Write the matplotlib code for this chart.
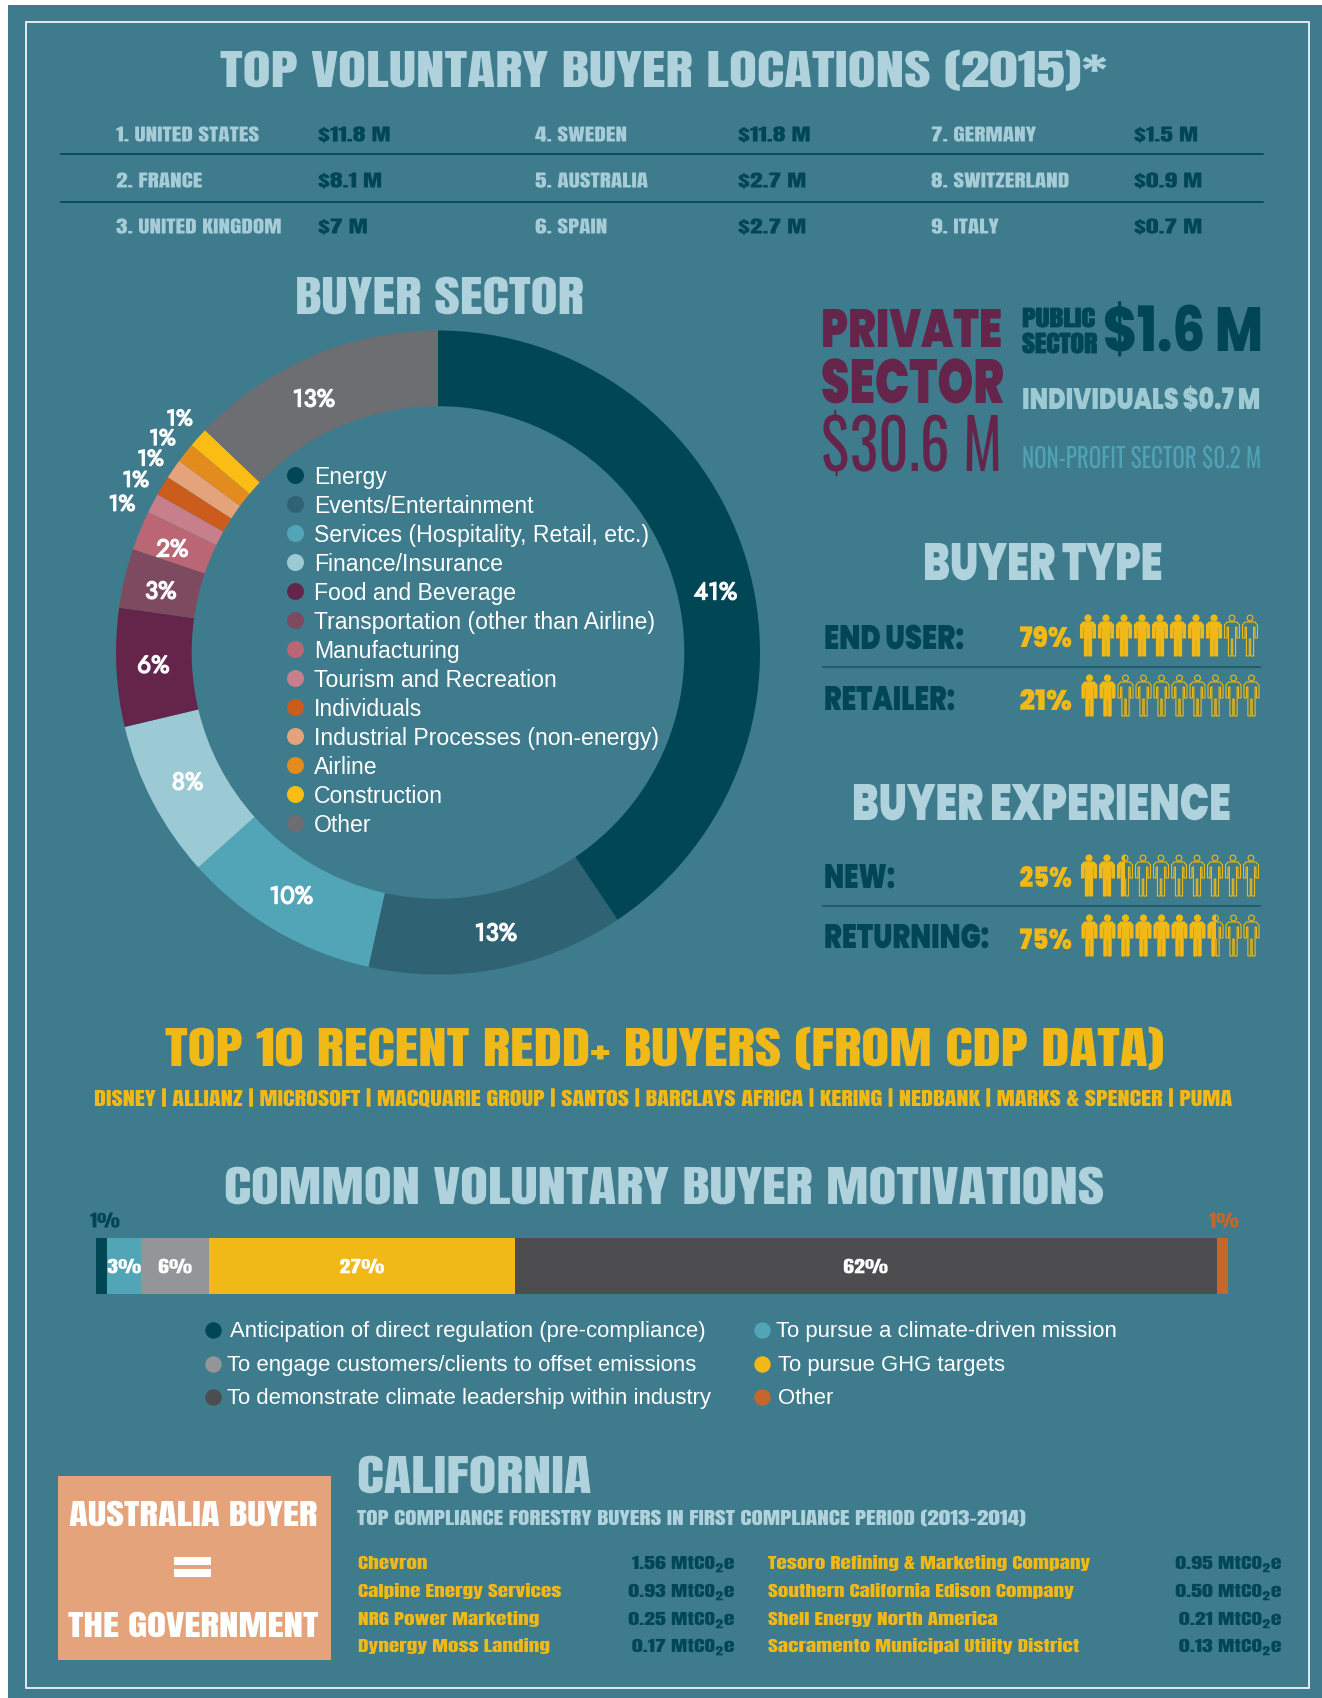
import matplotlib
matplotlib.use("Agg")
import logging
import numpy as np
import matplotlib.pyplot as plt
import matplotlib.patheffects as pe
from matplotlib.font_manager import FontProperties
from matplotlib.patches import Rectangle, Circle, PathPatch
from matplotlib.path import Path
from matplotlib.textpath import TextPath
from matplotlib.transforms import Affine2D

logging.getLogger("matplotlib.font_manager").setLevel(logging.ERROR)

NARROW = ["Anton", "Liberation Sans Narrow", "DejaVu Sans"]
WIDE = ["Poppins", "DejaVu Sans"]
THIN = ["Oswald", "Liberation Sans Narrow", "DejaVu Sans"]
PLAIN = ["Liberation Sans", "DejaVu Sans"]
ROUND = ["Jost", "DejaVu Sans"]

BG = "#3d7b8d"
ICE = "#b0d2dc"
DARK = "#004655"
GOLD = "#f1b918"
PLUM = "#65254a"

top_locations = ["1. UNITED STATES", "2. FRANCE", "3. UNITED KINGDOM", "4. SWEDEN", "5. AUSTRALIA",
                 "6. SPAIN", "7. GERMANY", "8. SWITZERLAND", "9. ITALY"]
top_amounts = ["$11.8 M", "$8.1 M", "$7 M", "$11.8 M", "$2.7 M", "$2.7 M", "$1.5 M", "$0.9 M", "$0.7 M"]

sectors = ["Energy", "Events/Entertainment", "Services (Hospitality, Retail, etc.)", "Finance/Insurance",
           "Food and Beverage", "Transportation (other than Airline)", "Manufacturing",
           "Tourism and Recreation", "Individuals", "Industrial Processes (non-energy)", "Airline",
           "Construction", "Other"]
sector_pct = [41, 13, 10, 8, 6, 3, 2, 1, 1, 1, 1, 1, 13]
sector_colors = ["#004655", "#2f6272", "#52a5b6", "#9ccad4", "#65254a", "#7d4a60", "#bb6674",
                 "#c67f8b", "#cb5c1c", "#e4a37a", "#e38b1d", "#fbbd14", "#6d6e71"]
# the labels in the original are hand placed, so nudge them off the wedge middle (pixels)
label_nudge = [(5, 23), (5, 1), (-3, -2), (2, -2), (0, 0), (0, 5), (-2, 5), (-6, 14), (-3, 9), (0, 6),
               (-1, 3), (2, 0), (-12, 9)]

buyer_rows = ["END USER:", "RETAILER:", "NEW:", "RETURNING:"]
buyer_pct = [79, 21, 25, 75]

redd_buyers = ["DISNEY", "ALLIANZ", "MICROSOFT", "MACQUARIE GROUP", "SANTOS", "BARCLAYS AFRICA",
               "KERING", "NEDBANK", "MARKS & SPENCER", "PUMA"]

motivations = ["Anticipation of direct regulation (pre-compliance)", "To pursue a climate-driven mission",
               "To engage customers/clients to offset emissions", "To pursue GHG targets",
               "To demonstrate climate leadership within industry", "Other"]
motivation_pct = [1, 3, 6, 27, 62, 1]
motivation_colors = ["#004655", "#52a5b6", "#939598", "#f1b918", "#4d4d4f", "#c4672d"]

ca_names = ["Chevron", "Calpine Energy Services", "NRG Power Marketing", "Dynergy Moss Landing",
            "Tesoro Refining & Marketing Company", "Southern California Edison Company",
            "Shell Energy North America", "Sacramento Municipal Utility District"]
ca_values = ["1.56", "0.93", "0.25", "0.17", "0.95", "0.50", "0.21", "0.13"]

plt.rcParams["mathtext.default"] = "regular"
fig = plt.figure(figsize=(13.22, 16.99), dpi=100, facecolor="white")
ax = fig.add_axes([0, 0, 1, 1])
ax.set_xlim(0, 1322)
ax.set_ylim(1699, 0)
ax.axis("off")
renderer = fig.canvas.get_renderer()


class ScaleY(pe.AbstractPathEffect):
    # rescale glyphs vertically about the baseline
    def __init__(self, sy, base, lw=0.0, color=None):
        self.sy, self.base, self.lw, self.color = sy, base, lw, color

    def draw_path(self, renderer, gc, tpath, affine, rgbFace=None):
        tr = affine + Affine2D().translate(0, -self.base).scale(1, self.sy).translate(0, self.base)
        if self.lw:
            gc0 = renderer.new_gc()
            gc0.copy_properties(gc)
            gc0.set_linewidth(self.lw)
            gc0.set_foreground(self.color)
            renderer.draw_path(gc0, tpath, tr, rgbFace)
            gc0.restore()
        else:
            renderer.draw_path(gc, tpath, tr, rgbFace)


def set_cap(t, cap, stroke=0.0):
    # cap height in pixels, whatever the font gives
    fp = FontProperties(family=t.get_fontfamily(), weight=t.get_fontweight())
    native = TextPath((0, 0), "H", size=t.get_fontsize(), prop=fp).get_extents().height * 100 / 72
    base = t.get_transform().transform(t.get_position())[1]
    t.set_path_effects([ScaleY(cap / native, base, stroke, t.get_color())])
    return t


def fit(s, x0, x1, base, cap, color=ICE, family=NARROW, weight="normal", stroke=0.0):
    # scale the font until the string spans x0..x1
    t = ax.text(x0, base, s, color=color, family=family, weight=weight, fontsize=20,
                ha="left", va="baseline", zorder=10)
    w = t.get_window_extent(renderer).width
    t.set_fontsize(20 * (x1 - x0) / w)
    return set_cap(t, cap, stroke)


def small(s, x, base, size, cap, color, ha="left", stroke=0.0):
    t = ax.text(x, base, s, color=color, family=NARROW, fontsize=size, ha=ha, va="baseline", zorder=10)
    return set_cap(t, cap, stroke)


ax.add_patch(Rectangle((8, 6), 1314, 1693, fc=BG, ec="none", zorder=0))
ax.add_patch(Rectangle((26, 23), 1283, 1666, fc="none", ec="white", lw=1.2, zorder=1))

fit("TOP VOLUNTARY BUYER LOCATIONS (2015)*", 220, 1105, 88, 36)

col_name_x = [116, 535, 931]
col_amt_x = [318, 738, 1134]
row_y = [142.5, 188.5, 234.5]
for i in range(9):
    c, r = i // 3, i % 3
    small(top_locations[i], col_name_x[c], row_y[r], 16.8, 15, "#a6ccd7")
    small(top_amounts[i], col_amt_x[c], row_y[r], 18.5, 15, DARK)
for y in [155, 203]:
    ax.plot([61, 1263], [y, y], color=DARK, lw=1.2, zorder=2)

fit("BUYER SECTOR", 295, 583, 315, 37)

# donut
R_PX = 322
CX, CY = 438, 653.5
SPAN = 1.2
pie_ax = fig.add_axes([(CX - SPAN * R_PX) / 1322, 1 - (CY + SPAN * R_PX) / 1699,
                       2 * SPAN * R_PX / 1322, 2 * SPAN * R_PX / 1699], zorder=3)
pie_ax.patch.set_alpha(0)
wedges, _ = pie_ax.pie(sector_pct, colors=sector_colors, startangle=90, counterclock=False, radius=1,
                       wedgeprops=dict(width=0.235, linewidth=0))
pie_ax.set_xlim(-SPAN, SPAN)
pie_ax.set_ylim(-SPAN, SPAN)
for w, pct, (dx, dy) in zip(wedges, sector_pct, label_nudge):
    mid = np.deg2rad((w.theta1 + w.theta2) / 2)
    r = 1.087 if pct == 1 else 0.885
    pie_ax.text(r * np.cos(mid) + dx / R_PX, r * np.sin(mid) - dy / R_PX, f"{pct}%", color="white", family=ROUND,
                weight="bold", fontsize=17.5 if pct > 1 else 16, ha="center", va="center",
                path_effects=[pe.withStroke(linewidth=1.0, foreground="white")])

legend_y = [476, 505, 534, 563, 592, 621, 650, 679, 708, 737, 766, 795, 824]
for name, color, y in zip(sectors, sector_colors, legend_y):
    ax.scatter([295], [y], s=150, color=color, linewidths=0, zorder=10)
    ax.text(314, y + 1.5, name, color="white", family=PLAIN, fontsize=16.6, va="center", ha="left", zorder=10)

# sector totals
fit("PRIVATE", 821, 1002, 348, 38, color=PLUM, family=WIDE, weight=900)
fit("SECTOR", 821, 1004, 404, 44, color=PLUM, family=WIDE, weight=900)
fit("$30.6 M", 821, 1002, 472, 56, color=PLUM, family=THIN)
fit("PUBLIC", 1022, 1095, 328, 19, color=DARK, stroke=0.6)
fit("SECTOR", 1022, 1097, 354, 20, color=DARK, stroke=0.6)
fit("$1.6 M", 1103, 1263, 352, 44, color=DARK, family=WIDE, weight=800)
fit("INDIVIDUALS $0.7 M", 1022, 1260, 410, 21, color="#9ecad4", family=WIDE, weight=900)
fit("NON-PROFIT SECTOR $0.2 M", 1022, 1261, 469, 22, color="#4fa3b5", family=THIN)

fit("BUYER TYPE", 923, 1162, 581, 37, family=WIDE, weight=900)
fit("BUYER EXPERIENCE", 852, 1231, 821, 36, family=WIDE, weight=900)

# person icon, 16 wide and 41 high, origin top left
person = [(3.2, 7), (12.8, 7), (15.5, 10), (15.5, 23), (13, 23), (13, 12), (11.6, 12), (11.6, 41), (8.7, 41),
          (8.7, 24), (7.3, 24), (7.3, 41), (4.4, 41), (4.4, 12), (3, 12), (3, 23), (0.5, 23), (0.5, 10), (3.2, 7)]


def draw_person(x, y, frac):
    shift = [(x + a, y + b) for a, b in person]
    codes = [Path.MOVETO] + [Path.LINETO] * (len(shift) - 2) + [Path.CLOSEPOLY]
    ax.add_patch(PathPatch(Path(shift, codes), fc="none", ec=GOLD, lw=0.8, zorder=10))
    ax.add_patch(Circle((x + 8, y + 3), 2.9, fc="none", ec=GOLD, lw=0.8, zorder=10))
    if frac > 0:
        clip = Rectangle((x - 1, y - 1), 18 * frac, 43, transform=ax.transData)
        body = PathPatch(Path(shift, codes), fc=GOLD, ec="none", zorder=11)
        head = Circle((x + 8, y + 3), 3.4, fc=GOLD, ec="none", zorder=11)
        ax.add_patch(body)
        ax.add_patch(head)
        body.set_clip_path(clip)
        head.set_clip_path(clip)


row_text_base = [650, 711, 889, 949]
row_text_end = [964, 955, 895, 989]
row_pct_base = [648, 711, 888, 950]
row_icon_x = [1080, 1081.5, 1081, 1081.5]
row_icon_y = [616, 676, 856, 916]
for i in range(4):
    fit(buyer_rows[i], 824, row_text_end[i], row_text_base[i], 24, color=DARK, family=WIDE, weight=900)
    fit(f"{buyer_pct[i]}%", 1019.5, 1072, row_pct_base[i], 20, color=GOLD, family=WIDE, weight=900)
    for k in range(10):
        frac = min(max(buyer_pct[i] / 10 - k, 0), 1)
        draw_person(row_icon_x[i] + 18 * k, row_icon_y[i], frac)
for y in [668, 907]:
    ax.plot([823, 1260], [y, y], color="#1f5a6c", lw=1.3, zorder=2)

fit("TOP 10 RECENT REDD+ BUYERS (FROM CDP DATA)", 165, 1160, 1067, 38, color=GOLD)
fit(" | ".join(redd_buyers), 94, 1231, 1107, 16, color=GOLD)

fit("COMMON VOLUNTARY BUYER MOTIVATIONS", 224, 1102, 1205, 37)

# stacked bar
BAR_X0, BAR_X1, BAR_Y0, BAR_Y1 = 96, 1228, 1239, 1295
bar_ax = fig.add_axes([BAR_X0 / 1322, 1 - BAR_Y1 / 1699, (BAR_X1 - BAR_X0) / 1322, (BAR_Y1 - BAR_Y0) / 1699],
                      zorder=3)
bar_ax.set_xlim(0, 100)
bar_ax.set_ylim(0, 1)
bar_ax.axis("off")
left = 0
for pct, color in zip(motivation_pct, motivation_colors):
    bar_ax.barh(0.5, pct, left=left, height=1, color=color, linewidth=0)
    if pct > 1:
        tl = bar_ax.text(left + pct / 2, 0.37, f"{pct}%", color="white", family=NARROW, fontsize=15.8,
                         ha="center", va="baseline")
        set_cap(tl, 14.5)
    left += pct
small("1%", 105, 1228.5, 15.5, 15, DARK, ha="center")
small("1%", 1224, 1228.5, 15.5, 15, "#c4672d", ha="center")

mot_dot_x = [213, 762]
mot_text_x = [[230, 776], [227, 778], [227, 778]]
mot_y = [1331, 1365, 1398]
for i, (name, color) in enumerate(zip(motivations, motivation_colors)):
    r, c = i // 2, i % 2
    ax.scatter([mot_dot_x[c]], [mot_y[r]], s=140, color=color, linewidths=0, zorder=10)
    ax.text(mot_text_x[r][c], mot_y[r] + 1, name, color="white", family=PLAIN, fontsize=15.9, va="center", zorder=10)

# bottom block
ax.add_patch(Rectangle((58, 1477), 273, 184, fc="#e4a37a", ec="none", zorder=3))
fit("AUSTRALIA BUYER", 69, 317, 1527, 25, color="white")
fit("THE GOVERNMENT", 68, 317, 1638, 25, color="white")
ax.add_patch(Rectangle((174, 1558), 37, 8, fc="white", ec="none", zorder=4))
ax.add_patch(Rectangle((174, 1570), 37, 8, fc="white", ec="none", zorder=4))
fit("CALIFORNIA", 357, 591, 1494, 37)
fit("TOP COMPLIANCE FORESTRY BUYERS IN FIRST COMPLIANCE PERIOD (2013\u20132014)", 357, 1024, 1526, 15)

ca_y = [1570, 1598, 1626, 1653]
for i in range(8):
    c, r = i // 4, i % 4
    small(ca_names[i], [358, 768][c], ca_y[r], 15.3, 13, GOLD)
    small(ca_values[i] + " MtCO$_2$e", [736, 1283][c], ca_y[r], 15.8, 13, DARK, ha="right")

fig.savefig("out.png", dpi=100)
